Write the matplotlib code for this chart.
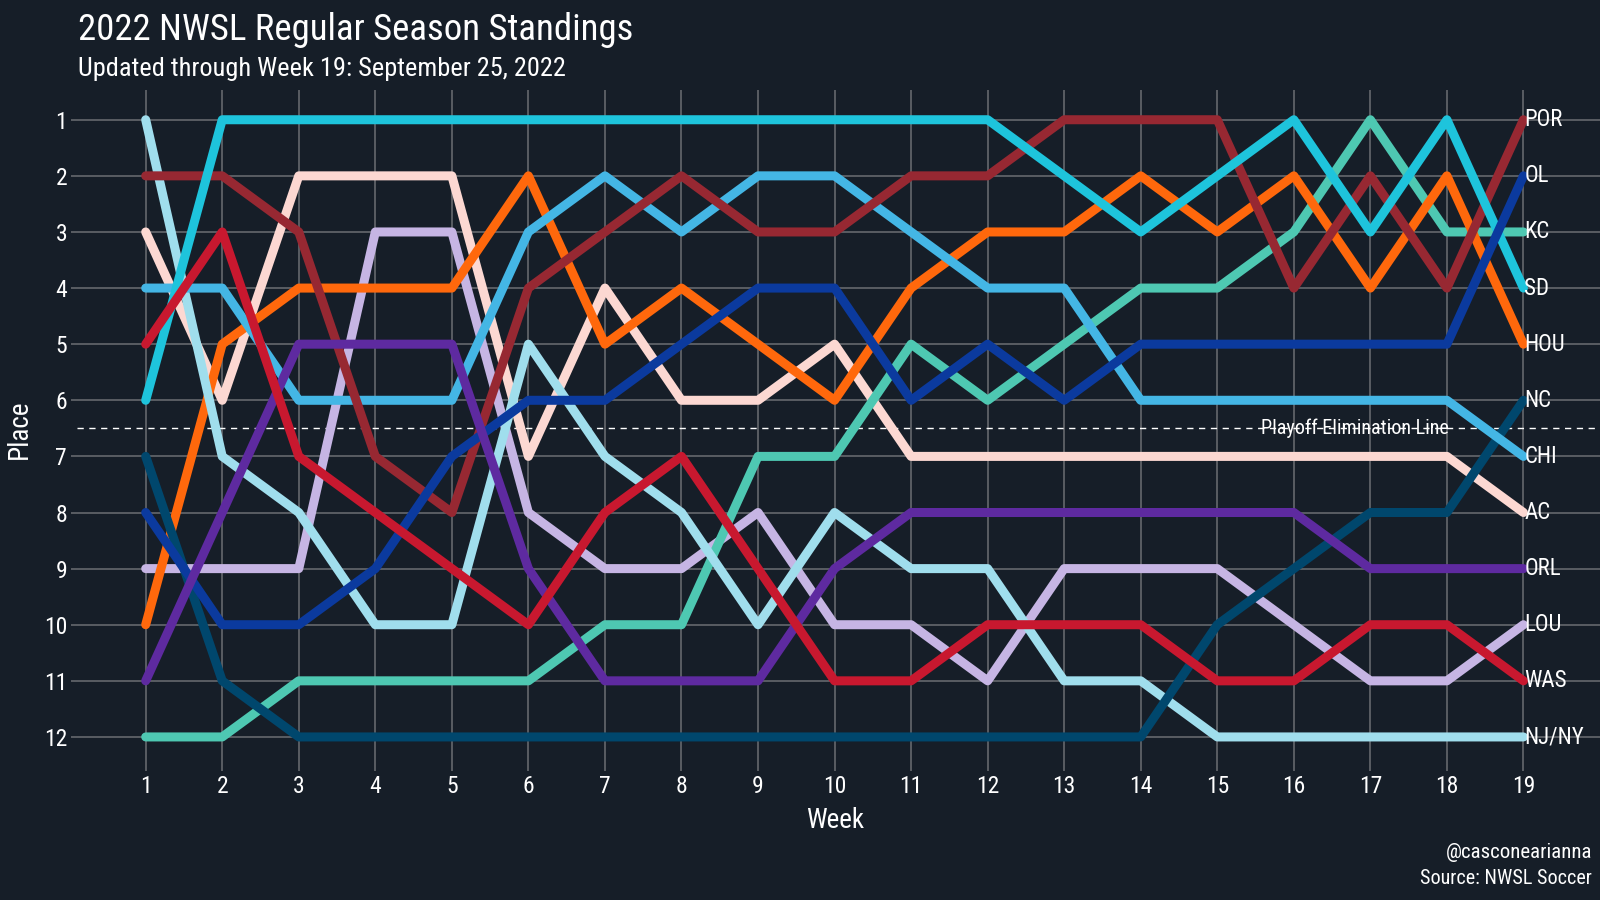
import matplotlib
matplotlib.use("Agg")
import matplotlib.pyplot as plt

weeks = list(range(1, 20))

POR = [2, 2, 3, 7, 8, 4, 3, 2, 3, 3, 2, 2, 1, 1, 1, 4, 2, 4, 1]
OL = [8, 10, 10, 9, 7, 6, 6, 5, 4, 4, 6, 5, 6, 5, 5, 5, 5, 5, 2]
KC = [12, 12, 11, 11, 11, 11, 10, 10, 7, 7, 5, 6, 5, 4, 4, 3, 1, 3, 3]
SD = [6, 1, 1, 1, 1, 1, 1, 1, 1, 1, 1, 1, 2, 3, 2, 1, 3, 1, 4]
HOU = [10, 5, 4, 4, 4, 2, 5, 4, 5, 6, 4, 3, 3, 2, 3, 2, 4, 2, 5]
NC = [7, 11, 12, 12, 12, 12, 12, 12, 12, 12, 12, 12, 12, 12, 10, 9, 8, 8, 6]
CHI = [4, 4, 6, 6, 6, 3, 2, 3, 2, 2, 3, 4, 4, 6, 6, 6, 6, 6, 7]
AC = [3, 6, 2, 2, 2, 7, 4, 6, 6, 5, 7, 7, 7, 7, 7, 7, 7, 7, 8]
ORL = [11, 8, 5, 5, 5, 9, 11, 11, 11, 9, 8, 8, 8, 8, 8, 8, 9, 9, 9]
LOU = [9, 9, 9, 3, 3, 8, 9, 9, 8, 10, 10, 11, 9, 9, 9, 10, 11, 11, 10]
WAS = [5, 3, 7, 8, 9, 10, 8, 7, 9, 11, 11, 10, 10, 10, 11, 11, 10, 10, 11]
NJNY = [1, 7, 8, 10, 10, 5, 7, 8, 10, 8, 9, 9, 11, 11, 12, 12, 12, 12, 12]

# drawing order (first = bottom)
teams = ["AC", "LOU", "KC", "HOU", "NJ/NY", "NC", "CHI", "POR", "SD", "OL", "ORL", "WAS"]
places = {
    "POR": POR, "OL": OL, "KC": KC, "SD": SD, "HOU": HOU, "NC": NC,
    "CHI": CHI, "AC": AC, "ORL": ORL, "LOU": LOU, "WAS": WAS, "NJ/NY": NJNY,
}
colors = {
    "POR": "#972832", "OL": "#0B3A9E", "KC": "#4EC8B2", "SD": "#1EC4DC",
    "HOU": "#FF680C", "NC": "#00476D", "CHI": "#44B6E5", "AC": "#FCD8D2",
    "ORL": "#5E2AA0", "LOU": "#C6B5E4", "WAS": "#C8182F", "NJ/NY": "#A0DEED",
}

BG = "#161E28"
GRID = "#6B6E73"
plt.rcParams["font.family"] = ["Roboto Condensed", "Open Sans Condensed",
                               "Liberation Sans Narrow", "DejaVu Sans"]
plt.rcParams["font.stretch"] = "condensed"

fig = plt.figure(figsize=(16, 9), dpi=100, facecolor=BG)
ax = fig.add_axes([0.048, 0.15, 0.952, 0.75], facecolor=BG)

for t in teams:
    ax.plot(weeks, places[t], color=colors[t], lw=6.5,
            solid_capstyle="round", solid_joinstyle="round", zorder=3)
    ax.text(19.01, places[t][-1], t, color="white", fontsize=16.5,
            ha="left", va="center", zorder=5, clip_on=False)

ax.axhline(6.5, color="white", lw=1.0, ls=(0, (4.5, 4)), zorder=2)
ax.text(16.8, 6.5, "Playoff Elimination Line", color="white", fontsize=14.5,
        ha="center", va="center", zorder=4)

ax.set_xlim(0.1, 20.0)
ax.set_ylim(12.5, 0.47)
ax.set_xticks(weeks)
ax.set_yticks(range(1, 13))
ax.grid(True, color=GRID, lw=1.1, zorder=1)
ax.set_axisbelow(True)
for s in ax.spines.values():
    s.set_visible(False)
ax.tick_params(colors=GRID, length=4, width=1.1, labelcolor="white",
               labelsize=17, pad=3)

fig.text(0.049, 0.955, "2022 NWSL Regular Season Standings", color="white",
         fontsize=26.5, ha="left", va="baseline")
fig.text(0.049, 0.916, "Updated through Week 19: September 25, 2022",
         color="white", fontsize=19, ha="left", va="baseline")
fig.text(0.522, 1 - 821 / 900, "Week", color="white", fontsize=19.5,
         ha="center", va="center")
fig.text(0.012, 1 - 429 / 900, "Place", color="white", fontsize=19.5,
         ha="center", va="center", rotation=90)
fig.text(0.995, 1 - 853 / 900, "@casconearianna", color="white",
         fontsize=15, ha="right", va="center")
fig.text(0.995, 1 - 878 / 900, "Source: NWSL Soccer", color="white",
         fontsize=14.5, ha="right", va="center")

fig.savefig("out.png", dpi=100, facecolor=BG)
